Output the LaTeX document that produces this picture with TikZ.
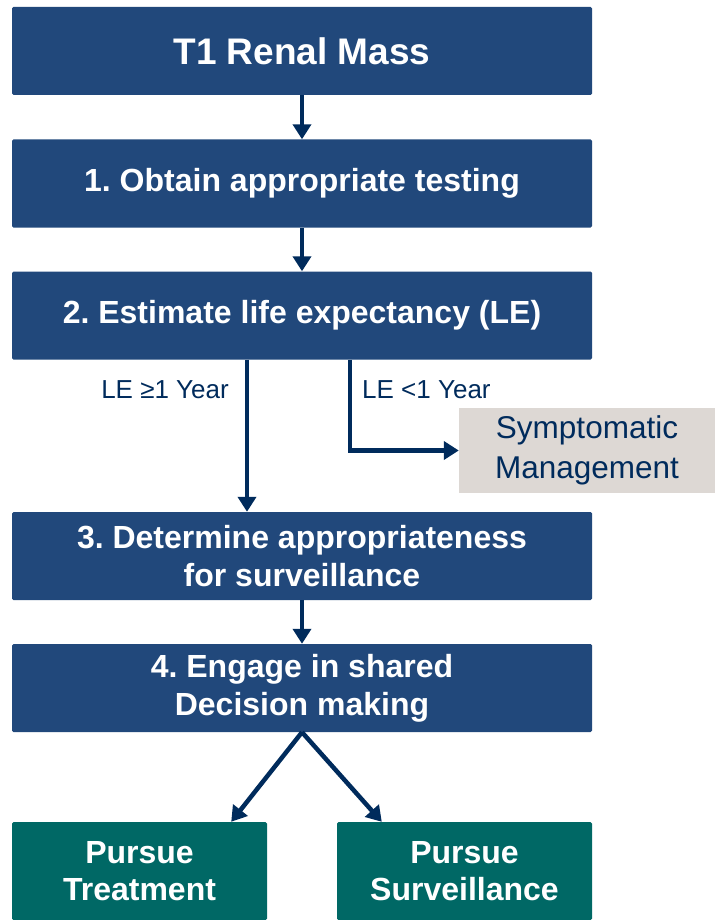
\documentclass[tikz,border=0pt]{standalone}
\usepackage{fontspec}
\setmainfont{Liberation Sans}
\usetikzlibrary{positioning, arrows.meta}
\definecolor{boxblue}{HTML}{21487B}
\definecolor{arrowblue}{HTML}{002B5C}
\definecolor{boxteal}{HTML}{006865}
\definecolor{boxgrey}{HTML}{DDD8D4}
\frenchspacing

\tikzset{
  every step/.style={fill=boxblue, rounded corners=1.5pt, minimum width=580, minimum height=88,
    text=white, align=center, font=\fontsize{32}{38}\selectfont\bfseries, inner sep=0pt},
  step 0/.style={font=\fontsize{37}{42}\selectfont\bfseries},
  every outcome/.style={fill=boxteal, rounded corners=1.5pt, minimum width=255, minimum height=98,
    text=white, align=center, font=\fontsize{32}{37}\selectfont\bfseries, inner sep=0pt},
  link/.style={draw=arrowblue, line width=4.5pt, ->},
  branch label/.style={text=arrowblue, font=\fontsize{26}{30}\selectfont, inner sep=0pt}
}

\begin{document}
\begin{tikzpicture}[x=1pt, y=-1pt, >={Triangle[length=15pt, width=18pt]}]
\useasboundingbox (0,0) rectangle (715,920);
\foreach \t/\y [count=\i from 0] in {T1 Renal Mass/51, 1. Obtain appropriate testing/183.5,
    2. Estimate life expectancy (LE)/315.5, 3. Determine appropriateness\\for surveillance/556,
    4. Engage in shared\\Decision making/688}
  \node [every step, step \i/.try] (step-\i) at (302,\y) {\t};
\node [fill=boxgrey, minimum width=256, minimum height=85, inner sep=0pt, align=center,
  text=arrowblue, font=\fontsize{31.5}{40}\selectfont] (symptom) at (587,450.5)
  {\raisebox{-4pt}{\begin{tabular}{@{}c@{}}Symptomatic\\Management\end{tabular}}};
\node [every outcome] (treat) at (139.5,871) {Pursue\\Treatment};
\node [every outcome] (watch) at (464.5,871) {Pursue\\Surveillance};
% branch points under step 2
\coordinate (le-yes) at (247,0);
\coordinate (le-no) at (350,0);
\foreach \i [evaluate=\i as \j using int(\i+1)] in {0,1}
  \draw [link] (step-\i) -- (step-\j);
\draw [link] (step-3) -- (step-4);
\draw [link] (step-2.south -| le-yes) -- (step-3.north -| le-yes);
\draw [link] (step-2.south -| le-no) |- (symptom);
\node [branch label, anchor=east] (yes-label) at (229,390) {LE ≥1 Year};
\node [branch label, anchor=west] (no-label) at (362,390) {LE <1 Year};
\draw [link] (step-4.south) -- ([xshift=-36]treat.north east);
\draw [link] (step-4.south) -- ([xshift=45]watch.north west);
\end{tikzpicture}
\end{document}
